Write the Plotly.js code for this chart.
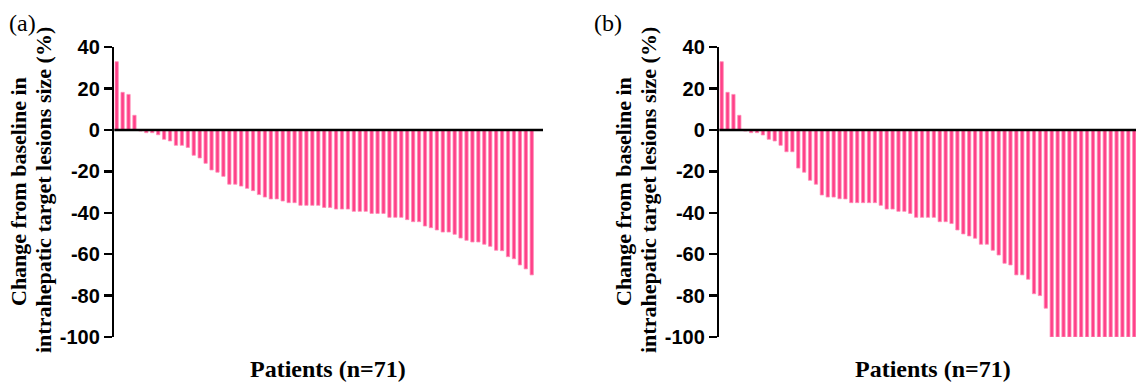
<!DOCTYPE html>
<html>
<head>
<meta charset="utf-8">
<script src="https://cdn.plot.ly/plotly-3.0.1.min.js"></script>
<style>
html, body { margin: 0; padding: 0; background: #fff; overflow: hidden; }
#chart { width: 1136px; height: 386px; }
</style>
</head>
<body>
<div id="chart"></div>
<script>
// Percent change from baseline, patients sorted (panel a)
const changeA = [33, 18.2, 17.2, 7.1, -0.5, -1.3, -1.3, -2.3, -4.5, -5.3, -7.4, -7.4, -8.4,
  -12.2, -13.5, -16.1, -19.3, -20.4, -22.4, -26.2, -26.2, -27.1, -28.2,
  -29.3, -31.2, -32.4, -33.3, -33.3, -34.3, -35.1, -35.1, -36.4, -36.4, -36.4, -36.4,
  -37.4, -37.4, -38.2, -38.2, -38.2, -39.3, -39.3, -39.3, -40.3, -40.3, -40.3,
  -42.2, -42.2, -42.2, -43.3, -44.3, -44.3, -46.4, -47.2, -48.3, -49.3, -49.3,
  -50.4, -52.2, -53.3, -54.1, -54.1, -55.2, -56.2, -58.1, -58.3, -61.2, -62.2,
  -65.2, -67.1, -70.0];

// Percent change from baseline, patients sorted (panel b)
const changeB = [33, 18.2, 17.2, 7.1, -0.5, -1.3, -1.3, -2.4, -4.5, -5.3, -7.4,
  -10.5, -10.5, -18.4, -20.4, -24.3, -26.2, -31.4, -32.4, -32.4, -33.2, -33.3,
  -35.1, -35.1, -35.1, -35.1, -35.1, -36.4, -38.2, -38.2, -39.3, -39.3, -40.3,
  -42.2, -42.2, -42.2, -42.2, -44.3, -44.3, -45.2, -48.3, -50.2, -51.2, -52.3,
  -55.2, -55.2, -58.1, -60.4, -64.4, -65.2, -70, -70, -72.1, -79.1, -80.0, -86.1,
  -100, -100, -100, -100, -100, -100, -100, -100, -100, -100, -100, -100, -100, -100, -100];

const yTickVals = [-100, -80, -60, -40, -20, 0, 20, 40];
const yTickText = ['-100', '-80', '-60', '-40', '-20', '0', '20', '40'];
const panelLabels = ['(a)', '(b)'];
const yTitleLine1 = 'Change from baseline in';
const yTitleLine2 = 'intrahepatic target lesions size (%)';
const xTitle = 'Patients (n=71)';

const patientsA = changeA.map((_, i) => i + 1);
const patientsB = changeB.map((_, i) => i + 1);

const W = 1136, H = 386;
const px = v => v / W;
const py = v => (H - v) / H;

const barStyle = {
  color: '#ff4088',
  line: { color: '#ff8cb6', width: 0.8 }
};

const traces = [
  { type: 'bar', x: patientsA, y: changeA, xaxis: 'x', yaxis: 'y', marker: barStyle, hoverinfo: 'x+y' },
  { type: 'bar', x: patientsB, y: changeB, xaxis: 'x2', yaxis: 'y2', marker: barStyle, hoverinfo: 'x+y' }
];

const yDomain = [py(337), py(47.2)];

function yAxis(anchor) {
  return {
    anchor: anchor,
    domain: yDomain,
    range: [-100, 40],
    tickvals: yTickVals,
    ticktext: yTickText,
    showline: true,
    linecolor: '#000',
    linewidth: 2.5,
    ticks: 'outside',
    ticklen: 8,
    tickwidth: 2.5,
    tickcolor: '#000',
    showgrid: false,
    zeroline: false,
    layer: 'above traces',
    automargin: false,
    tickfont: { family: 'Liberation Sans, Arial, sans-serif', size: 20, color: '#000', weight: 'bold' }
  };
}

function xAxis(anchor, domain, range) {
  return {
    anchor: anchor,
    domain: domain,
    range: range,
    showline: false,
    showticklabels: false,
    ticks: '',
    showgrid: false,
    zeroline: false,
    automargin: false
  };
}

const serifFont = 'Liberation Serif, Times New Roman, serif';

const annotations = [];
const offsets = [0, 605];
offsets.forEach((off, k) => {
  annotations.push({
    xref: 'paper', yref: 'paper', x: px(7 + off - (k === 1 ? 20 : 0)), y: py(8),
    xanchor: 'left', yanchor: 'top', showarrow: false, text: panelLabels[k],
    font: { family: serifFont, size: 24, color: '#000' }
  });
  annotations.push({
    xref: 'paper', yref: 'paper', x: px(18 + off), y: py(192),
    xanchor: 'center', yanchor: 'middle', textangle: -90, showarrow: false,
    text: yTitleLine1,
    font: { family: serifFont, size: 22, color: '#000', weight: 'bold' }
  });
  annotations.push({
    xref: 'paper', yref: 'paper', x: px(43 + off), y: py(190),
    xanchor: 'center', yanchor: 'middle', textangle: -90, showarrow: false,
    text: yTitleLine2,
    font: { family: serifFont, size: 22, color: '#000', weight: 'bold' }
  });
  annotations.push({
    xref: 'paper', yref: 'paper', x: px(327.5 + off), y: py(369),
    xanchor: 'center', yanchor: 'middle', showarrow: false,
    text: xTitle,
    font: { family: serifFont, size: 24, color: '#000', weight: 'bold' }
  });
});

const layout = {
  width: W, height: H,
  margin: { l: 0, r: 0, t: 0, b: 0, pad: 0 },
  paper_bgcolor: '#fff',
  plot_bgcolor: 'rgba(0,0,0,0)',
  showlegend: false,
  bargap: 0.45,
  xaxis: xAxis('y', [px(114.3), px(543)], [0.6, 72.9]),
  yaxis: yAxis('x'),
  xaxis2: xAxis('y2', [px(719.3), 1], [0.6, 71.3]),
  yaxis2: yAxis('x2'),
  shapes: [
    { type: 'line', xref: 'x domain', yref: 'y', x0: 0, x1: 1, y0: 0, y1: 0, layer: 'above',
      line: { color: '#000', width: 2.5 } },
    { type: 'line', xref: 'x2 domain', yref: 'y2', x0: 0, x1: 1, y0: 0, y1: 0, layer: 'above',
      line: { color: '#000', width: 2.5 } }
  ],
  annotations: annotations
};

Plotly.newPlot('chart', traces, layout, { displayModeBar: false, staticPlot: true });
</script>
</body>
</html>
